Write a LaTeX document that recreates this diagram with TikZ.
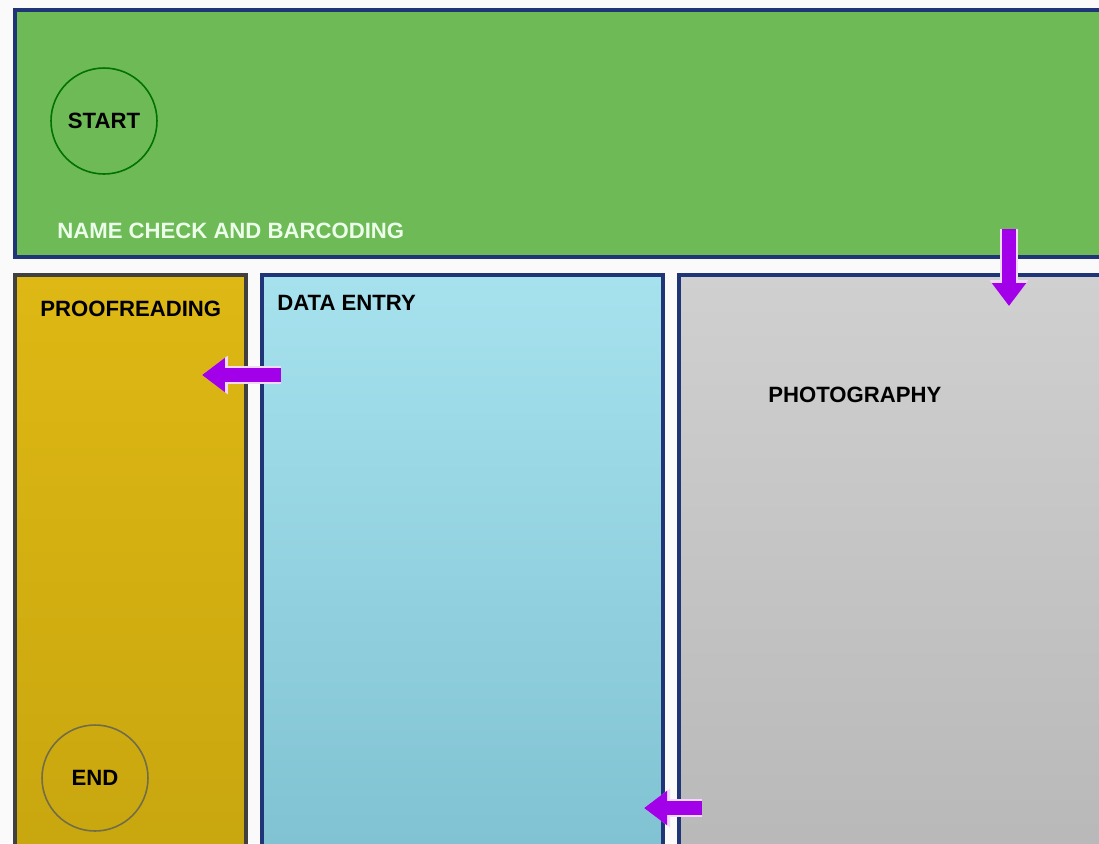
\documentclass[tikz,border=0pt]{standalone}
\usepackage{fontspec}
\setmainfont{Liberation Sans}
\usepackage{xcolor}
\usetikzlibrary{arrows.meta, positioning, calc}

\definecolor{boxgreen}{RGB}{110,186,86}
\definecolor{boxyellowtop}{RGB}{222,184,20}
\definecolor{boxyellowbot}{RGB}{200,166,14}
\definecolor{boxbluetop}{RGB}{166,226,238}
\definecolor{boxbluebot}{RGB}{128,194,210}
\definecolor{boxgraytop}{RGB}{208,208,208}
\definecolor{boxgraybot}{RGB}{184,184,184}
\definecolor{edgeblue}{RGB}{32,52,120}
\definecolor{flowpurple}{RGB}{162,0,232}

\tikzset{
  area/.style={draw=edgeblue, line width=2pt},
  label/.style={font=\bfseries\fontsize{12.6}{14}\selectfont, anchor=west, inner sep=0pt},
  terminal/.style={circle, minimum size=2.12cm, line width=0.9pt, inner sep=0pt,
    font=\bfseries\fontsize{12.6}{14}\selectfont},
  flowglow/.style={white!85!flowpurple, line width=10.5pt, -{Triangle[length=0.52cm, width=0.74cm]}},
  flow/.style={flowpurple, line width=8.5pt, -{Triangle[length=0.46cm, width=0.66cm]}},
}

\begin{document}
\begin{tikzpicture}[x=0.02cm, y=-0.02cm]
  \useasboundingbox (0,0) rectangle (1099,843);
  \fill[white!96!gray] (0,0) rectangle (1099,843);
  \clip (0,0) rectangle (1099,843);

  % areas of the room
  \fill[boxgreen] (15,10) rectangle (1120,257);
  \draw[area] (1120,10) -- (15,10) -- (15,257) -- (1120,257);
  \shade[top color=boxyellowtop, bottom color=boxyellowbot] (15,275) rectangle (246,860);
  \draw[area, draw=black!75] (15,860) -- (15,275) -- (246,275) -- (246,860);
  \shade[top color=boxbluetop, bottom color=boxbluebot] (262,275) rectangle (663,860);
  \draw[area] (262,860) -- (262,275) -- (663,275) -- (663,860);
  \shade[top color=boxgraytop, bottom color=boxgraybot] (679,275) rectangle (1120,860);
  \draw[area] (679,860) -- (679,275) -- (1120,275);

  % labels
  \node[label, text=white!92!green] (namecheck) at (57,231) {NAME CHECK AND BARCODING};
  \node[label] (proofreading) at (40,309) {PROOFREADING};
  \node[label] (dataentry) at (277,303) {DATA ENTRY};
  \node[label] (photography) at (768,395) {PHOTOGRAPHY};

  \node[terminal, draw=green!45!black] (start) at (104,121) {START};
  \node[terminal, draw=black!55!yellow!80!black] (finish) at (95,778) {END};

  % flow between areas
  \coordinate (greenout) at (1009,229);
  \coordinate (grayin) at (1009,306);
  \coordinate (dataout) at (281,375);
  \coordinate (proofin) at (202,375);
  \coordinate (grayout) at (702,808);
  \coordinate (datain) at (644,808);
  \foreach \a/\b in {greenout/grayin, dataout/proofin, grayout/datain} {
    \draw[flowglow] (\a) -- (\b);
    \draw[flow] (\a) -- (\b);
  }
\end{tikzpicture}
\end{document}
